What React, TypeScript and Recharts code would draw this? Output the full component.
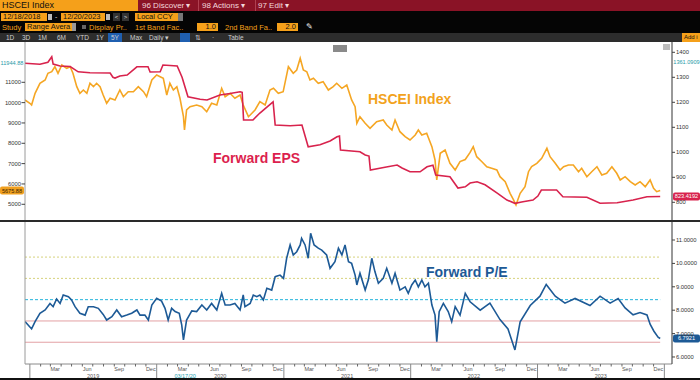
import React from "react";
import { LineChart, Line, XAxis, YAxis, ReferenceLine } from "recharts";

// day offsets from 12/18/2018
const hsceiDay = [0,14,19,29,43,58,66,77,86,95,106,120,130,138,149,158,168,178,187,197,206,216,225,235,245,259,273,283,297,312,326,341,350,365,379,389,398,408,417,427,437,446,456,459,465,475,494,509,523,537,552,566,576,590,604,619,628,643,648,662,676,691,705,715,729,743,758,772,782,792,801,811,820,830,844,858,873,887,897,912,926,940,950,955,964,979,993,1012,1031,1041,1056,1065,1079,1094,1108,1123,1132,1142,1156,1171,1180,1185,1195,1209,1223,1238,1252,1267,1281,1290,1300,1315,1329,1343,1358,1367,1382,1396,1406,1413,1425,1439,1449,1458,1473,1487,1502,1511,1526,1540,1550,1564,1578,1593,1602,1617,1631,1646,1660,1674,1689,1703,1713,1727,1742,1756,1770,1785,1799,1809,1818,1828];
const hsceiClose = [10130,9967,9884,10459,10951,11113,11443,11521,11767,11443,11851,11689,11767,11443,10784,10459,10621,10459,10951,10784,10951,10784,10375,9967,10213,10130,10621,10292,10538,10538,10784,10538,10292,11113,11359,11275,11197,10375,10951,10621,10784,10213,9308,8654,9638,9800,9884,9800,9554,9967,9884,10705,10292,10459,10213,10375,9884,9308,9392,9638,10046,9884,10621,10705,10459,10538,11767,11443,11605,12180,11605,11521,11113,11197,10951,11030,10621,10784,10951,10705,10867,10130,9800,8984,9308,8984,8738,9062,9146,8900,8654,9146,8571,8325,8162,8408,8654,8408,8492,7833,7179,6195,7508,7671,7016,6687,7100,7200,7550,7833,7341,7095,6849,6771,6687,6357,6112,5541,5212,4966,5541,5866,6603,6849,7016,7262,7754,7341,7016,6687,6849,6933,6933,6603,6771,6357,6603,6849,6441,6525,6849,6525,6195,6357,6112,5949,6112,5866,6195,5787,5620,5676];

const epsDay = [0,43,66,77,81,101,130,153,187,245,253,259,273,294,322,354,360,389,397,438,452,469,504,524,561,590,619,625,629,656,676,697,714,720,763,797,815,849,878,898,905,908,964,979,990,994,1036,1071,1085,1108,1137,1157,1174,1182,1223,1246,1267,1281,1301,1324,1359,1387,1410,1433,1462,1476,1486,1530,1548,1617,1655,1704,1750,1790,1828];
const epsValue = [1356,1352,1360,1382,1353,1345,1343,1322,1318,1317,1300,1297,1305,1309,1342,1342,1321,1322,1349,1345,1300,1222,1212,1209,1229,1235,1242,1240,1129,1129,1157,1182,1202,1109,1106,1109,1022,1030,1045,1062,1065,1009,1002,989,985,929,940,949,937,922,922,942,948,909,902,857,862,877,882,870,837,809,796,802,809,825,849,849,822,820,796,798,809,822,823];

const peDay = [0,9,19,29,43,58,72,81,91,101,110,125,134,144,158,173,182,197,211,225,235,250,264,278,293,307,322,331,345,355,365,379,393,403,412,422,432,444,451,456,465,480,494,509,523,537,552,566,576,590,604,619,628,633,648,657,667,676,686,696,710,720,734,744,753,763,772,782,792,796,806,815,822,832,844,854,868,878,892,902,912,921,931,940,950,955,964,979,988,998,1007,1017,1031,1041,1056,1065,1079,1094,1103,1113,1123,1132,1142,1151,1161,1171,1180,1185,1192,1204,1218,1228,1238,1252,1267,1281,1310,1338,1367,1390,1410,1425,1454,1482,1500,1526,1554,1583,1626,1655,1684,1707,1727,1750,1770,1790,1799,1810,1822,1828];
const peValue = [7.51,7.37,7.2,7.51,7.87,8.01,8.29,8.15,8.48,8.29,8.65,8.58,8.44,8.15,7.87,7.79,8.15,8.15,8.08,7.82,7.58,7.72,8.01,7.72,7.79,7.87,8.01,7.79,7.79,7.58,8.22,8.51,8.39,8.08,7.58,8.08,7.94,7.87,7.37,6.73,7.58,7.97,7.94,8.22,8.01,8.29,8.01,8.72,8.22,8.22,8.29,8.01,8.65,8.15,8.29,8.65,8.58,8.65,8.44,8.94,8.86,9.43,9.5,9.36,10.22,10.79,10.36,10.5,10.79,11.07,10.79,10.22,11.29,10.79,10.65,10.57,10.36,9.79,10.07,10.65,10.36,10.79,10.07,10.0,9.5,9.08,9.58,8.86,9.29,10.22,9.65,9.15,9.36,9.79,9.15,9.58,8.86,9.0,8.72,9.08,9.29,9.0,9.29,9.0,9.15,8.22,7.79,6.65,7.94,8.29,7.94,7.51,8.15,7.79,8.72,8.36,8.0,8.3,7.6,7.2,6.3,7.5,8.2,8.6,9.1,8.6,8.3,8.5,8.2,8.6,8.3,8.5,8.1,7.8,7.9,7.8,7.4,7.1,6.85,6.79];

// Range average bands for forward P/E
const peMean = 8.45;
const peBandsUpper = [9.36, 10.27];
const peBandsLower = [7.54, 6.63];

const idxTicks = [5000, 6000, 7000, 8000, 9000, 10000, 11000];
const epsTicks = [800, 900, 1000, 1100, 1200, 1300, 1400];
const peTicks = [6, 7, 8, 9, 10, 11];
const monthLabels = ["Mar", "Jun", "Sep", "Dec"];
const yearLabels = ["2019", "2020", "2021", "2022", "2023"];

const LAST = { idx: 5675.88, eps: 823.4192, pe: 6.7921 };
const CURSOR = { idx: 11944.88, eps: 1361.0909, date: "03/17/20" };

const START = Date.UTC(2018, 11, 18);
const dayOf = (y: number, m: number, d: number) => (Date.UTC(y, m, d) - START) / 86400000;
const END_DAY = 1862;

const pair = (days: number[], vals: number[]) => days.map((d, i) => ({ d, v: vals[i] }));
const hsceiData = pair(hsceiDay, hsceiClose);
const epsData = pair(epsDay, epsValue);
const peData = pair(peDay, peValue);

// time axis ticks: month starts, labelled quarter months, year labels
const tickInfo = new Map<number, { kind: string; label?: string }>();
for (let y = 2019; y <= 2024; y++) {
  for (let m = 0; m < 12; m++) {
    if (y === 2024 && m > 0) break;
    tickInfo.set(dayOf(y, m, 1), { kind: m === 0 ? "year" : "month" });
  }
}
yearLabels.forEach((yl) => {
  const y = Number(yl);
  [2, 5, 8, 11].forEach((m, i) => tickInfo.set(dayOf(y, m, 15), { kind: "mlabel", label: monthLabels[i] }));
  tickInfo.set(dayOf(y, 6, 2), { kind: "ylabel", label: yl });
});
tickInfo.set(dayOf(2020, 2, 17), { kind: "cursor", label: CURSOR.date });
const timeTicks = Array.from(tickInfo.keys()).sort((a, b) => a - b);

const FONT = "'Liberation Sans', Arial, sans-serif";

const TimeTick = (props: any) => {
  const { x, y, payload } = props;
  const info = tickInfo.get(payload.value);
  if (!info) return null;
  if (info.kind === "month") return <line x1={x} x2={x} y1={y} y2={y + 2.5} stroke="#666" />;
  if (info.kind === "year") return <line x1={x} x2={x} y1={y} y2={y + 15} stroke="#888" />;
  if (info.kind === "mlabel")
    return <text x={x} y={y + 7} textAnchor="middle" fontSize={5.5} fill="#555">{info.label}</text>;
  if (info.kind === "cursor")
    return <text x={x + 2} y={y + 14} textAnchor="middle" fontSize={5.5} fill="#1aa0b0">{info.label}</text>;
  return <text x={x} y={y + 14} textAnchor="middle" fontSize={5.5} fill="#555">{info.label}</text>;
};

const LeftTick = (props: any) => {
  const { x, y, payload } = props;
  return (
    <g>
      <line x1={x - 3.5} x2={x} y1={y} y2={y} stroke="#444" />
      <text x={x - 4} y={y} dy={2} textAnchor="end" fontSize={5.8} fill="#333">{payload.value}</text>
    </g>
  );
};

const RightTick = (props: any) => {
  const { x, y, payload, digits } = props;
  const label = digits ? payload.value.toFixed(digits) : payload.value;
  return (
    <g>
      <line x1={x} x2={x + 3} y1={y} y2={y} stroke="#444" />
      <text x={x + 4} y={y} dy={2} textAnchor="start" fontSize={5.8} fill="#333">{label}</text>
    </g>
  );
};

const tagLabel = (text: string, side: "left" | "right", bg: string, fg: string, box = true) => (p: any) => {
  const vb = p.viewBox;
  const w = side === "left" ? 24 : 27;
  const x = side === "left" ? 0 : vb.x + vb.width + 1;
  return (
    <g>
      {box && <rect x={x} y={vb.y - 4} width={w} height={8} rx={2} fill={bg} />}
      <text x={x + w / 2} y={vb.y} dy={2} textAnchor="middle" fontSize={5.6} fill={fg}>{text}</text>
    </g>
  );
};

const Box = ({ x, y, w, h, bg, color = "#111", size = 8, children, align = "left" }: any) => (
  <div
    style={{
      position: "absolute", left: x, top: y, width: w, height: h, background: bg, color,
      fontSize: size, lineHeight: `${h}px`, whiteSpace: "nowrap", overflow: "hidden",
      textAlign: align, paddingLeft: align === "left" ? 2 : 0, paddingRight: align === "right" ? 2 : 0,
      boxSizing: "border-box",
    }}
  >
    {children}
  </div>
);

const Txt = ({ x, y, color = "#ddd", size = 8, children, bold = false }: any) => (
  <div style={{ position: "absolute", left: x, top: y, color, fontSize: size, whiteSpace: "nowrap", fontWeight: bold ? 700 : 400, lineHeight: 1 }}>
    {children}
  </div>
);

function Header() {
  const periods = [["1D", 6], ["3D", 22], ["1M", 38], ["6M", 57], ["YTD", 76], ["1Y", 96], ["5Y", 111], ["Max", 130], ["Daily ▾", 149]];
  return (
    <>
      <div style={{ position: "absolute", left: 0, top: 0, width: 700, height: 11, background: "#8a1326" }} />
      <Box x={0} y={0} w={138} h={11} bg="#f5a01a" size={9}>HSCEI Index</Box>
      <Txt x={142} y={1.5} color="#f3d7dc" size={8}>96 Discover ▾</Txt>
      <div style={{ position: "absolute", left: 198, top: 0, width: 1, height: 11, background: "#b04050" }} />
      <Txt x={202} y={1.5} color="#f3d7dc" size={8}>98 Actions ▾</Txt>
      <div style={{ position: "absolute", left: 255, top: 0, width: 1, height: 11, background: "#b04050" }} />
      <Txt x={258} y={1.5} color="#f3d7dc" size={8}>97 Edit ▾</Txt>

      <div style={{ position: "absolute", left: 0, top: 11, width: 700, height: 22, background: "#050505" }} />
      <Box x={1} y={13} w={46} h={8} bg="#f5a01a" size={7.5}>12/18/2018</Box>
      <Box x={48} y={14} w={4} h={6} bg="#bbb" />
      <Txt x={55} y={13} color="#ddd" size={7}>-</Txt>
      <Box x={61} y={13} w={44} h={8} bg="#f5a01a" size={7.5}>12/20/2023</Box>
      <Box x={106} y={14} w={4} h={6} bg="#bbb" />
      <Box x={113} y={13} w={7} h={8} bg="#333" color="#ddd" size={6} align="center">&lt;</Box>
      <Box x={122} y={13} w={7} h={8} bg="#333" color="#ddd" size={6} align="center">&gt;</Box>
      <Box x={135} y={13} w={43} h={8} bg="#f5a01a" size={7.5}>Local CCY</Box>
      <Box x={178} y={13} w={5} h={8} bg="#777" />

      <Txt x={2} y={24} color="#f5a01a" size={7.5}>Study</Txt>
      <Box x={25} y={23} w={47} h={8} bg="#f5a01a" size={7.5}>Range Avera</Box>
      <Box x={72} y={23} w={4} h={8} bg="#999" />
      <Box x={82} y={25} w={4} h={4} bg="#666" />
      <Txt x={89} y={24} color="#f5a01a" size={7.5}>Display Pr..</Txt>
      <Txt x={135} y={24} color="#f5a01a" size={7.5}>1st Band Fac..</Txt>
      <Box x={197} y={23} w={21} h={8} bg="#f5a01a" size={7.5} align="right">1.0</Box>
      <Txt x={225} y={24} color="#f5a01a" size={7.5}>2nd Band Fa..</Txt>
      <Box x={277} y={23} w={21} h={8} bg="#f5a01a" size={7.5} align="right">2.0</Box>
      <Txt x={306} y={23} color="#eee" size={7.5}>✎</Txt>

      <div style={{ position: "absolute", left: 0, top: 33, width: 700, height: 9, background: "#2d2d2d" }} />
      <div style={{ position: "absolute", left: 108, top: 33, width: 14, height: 9, background: "#1f5fb0" }} />
      <div style={{ position: "absolute", left: 180, top: 33, width: 10, height: 9, background: "#1f5fb0" }} />
      {periods.map(([t, x]) => (
        <Txt key={t as string} x={x} y={34.5} color="#cfcfcf" size={6.5}>{t}</Txt>
      ))}
      <Txt x={195} y={34.5} color="#cfcfcf" size={6.5}>⇅</Txt>
      <Txt x={212} y={34.5} color="#cfcfcf" size={6.5}>·</Txt>
      <Txt x={228} y={34.5} color="#cfcfcf" size={6.5}>Table</Txt>
      <Box x={682} y={33} w={18} h={9} bg="#f5a01a" size={6}>Add i</Box>
    </>
  );
}

export default function App() {
  return (
    <div style={{ position: "absolute", left: 0, top: 0, width: 700, height: 380, background: "#fff", fontFamily: FONT, overflow: "hidden" }}>
      <Header />

      {/* upper panel: index and forward EPS */}
      <div style={{ position: "absolute", left: 0, top: 42 }}>
        <LineChart width={700} height={179} margin={{ top: 0, right: 0, bottom: 0, left: 0 }} style={{ fontFamily: FONT }}>
          <XAxis xAxisId="t" dataKey="d" type="number" domain={[0, END_DAY]} hide allowDataOverflow />
          <YAxis yAxisId="idx" orientation="left" width={25} domain={[4178, 12982]} ticks={idxTicks} interval={0}
            allowDataOverflow tick={<LeftTick />} tickLine={false} tickSize={0} tickMargin={0} axisLine={{ stroke: "#9a9a9a" }} />
          <YAxis yAxisId="eps" orientation="right" width={28} domain={[725.2, 1441.2]} ticks={epsTicks} interval={0}
            allowDataOverflow tick={<RightTick />} tickLine={false} tickSize={0} tickMargin={0} axisLine={{ stroke: "#333" }} />
          <ReferenceLine xAxisId="t" yAxisId="idx" y={CURSOR.idx} stroke="none"
            label={tagLabel(CURSOR.idx.toFixed(2), "left", "none", "#2a9aa8", false)} />
          <ReferenceLine xAxisId="t" yAxisId="idx" y={LAST.idx} stroke="none"
            label={tagLabel(LAST.idx.toFixed(2), "left", "#f0a020", "#3a2400")} />
          <ReferenceLine xAxisId="t" yAxisId="eps" y={CURSOR.eps} stroke="none"
            label={tagLabel(CURSOR.eps.toFixed(4), "right", "none", "#2a9aa8", false)} />
          <ReferenceLine xAxisId="t" yAxisId="eps" y={LAST.eps} stroke="none"
            label={tagLabel(LAST.eps.toFixed(4), "right", "#d8234d", "#fff")} />
          <Line xAxisId="t" yAxisId="idx" data={hsceiData} dataKey="v" type="linear" stroke="#f5a623"
            strokeWidth={1.6} dot={false} isAnimationActive={false} />
          <Line xAxisId="t" yAxisId="eps" data={epsData} dataKey="v" type="linear" stroke="#d8234d"
            strokeWidth={1.6} dot={false} isAnimationActive={false} />
        </LineChart>
      </div>

      <div style={{ position: "absolute", left: 0, top: 220, width: 700, height: 2, background: "#2a2a2a" }} />

      {/* lower panel: forward P/E with range-average bands */}
      <div style={{ position: "absolute", left: 0, top: 222 }}>
        <LineChart width={700} height={158} margin={{ top: 0, right: 0, bottom: 0, left: 0 }} style={{ fontFamily: FONT }}>
          <XAxis xAxisId="t" dataKey="d" type="number" domain={[0, END_DAY]} ticks={timeTicks} interval={0}
            allowDataOverflow height={16} tick={<TimeTick />} tickLine={false} tickSize={0} tickMargin={0}
            axisLine={{ stroke: "#8a8a8a" }} />
          <YAxis yAxisId="pe" orientation="left" width={25} domain={[5.7, 11.77]} tick={false}
            allowDataOverflow axisLine={{ stroke: "#9a9a9a" }} />
          <YAxis yAxisId="peR" orientation="right" width={28} domain={[5.7, 11.77]} ticks={peTicks} interval={0}
            allowDataOverflow tick={<RightTick digits={4} />} tickLine={false} tickSize={0} tickMargin={0}
            axisLine={{ stroke: "#333" }} />
          {peBandsUpper.map((b) => (
            <ReferenceLine key={b} xAxisId="t" yAxisId="pe" segment={[{ x: 0, y: b }, { x: 1828, y: b }]}
              stroke="#d6d27c" strokeDasharray="2 2" />
          ))}
          <ReferenceLine xAxisId="t" yAxisId="pe" segment={[{ x: 0, y: peMean }, { x: 1828, y: peMean }]}
            stroke="#22b4dc" strokeDasharray="3 2" />
          {peBandsLower.map((b) => (
            <ReferenceLine key={b} xAxisId="t" yAxisId="pe" segment={[{ x: 0, y: b }, { x: 1828, y: b }]}
              stroke="#e3a0a4" />
          ))}
          <ReferenceLine xAxisId="t" yAxisId="peR" y={LAST.pe} stroke="none"
            label={tagLabel(LAST.pe.toFixed(4), "right", "#1d5a96", "#fff")} />
          <Line xAxisId="t" yAxisId="pe" data={peData} dataKey="v" type="linear" stroke="#1d5a96"
            strokeWidth={1.6} dot={false} isAnimationActive={false} />
        </LineChart>
      </div>

      <Txt x={368} y={92} color="#f2a21c" size={14} bold>HSCEI Index</Txt>
      <Txt x={213} y={151} color="#dc1f4e" size={14} bold>Forward EPS</Txt>
      <Txt x={426} y={265} color="#1d5a96" size={14} bold>Forward P/E</Txt>

      <div style={{ position: "absolute", left: 333, top: 45, width: 14, height: 7, background: "#8a8a8a" }} />
      <div style={{ position: "absolute", left: 663, top: 44, width: 7, height: 6, background: "#bdbdbd" }} />
      <div style={{ position: "absolute", left: 0, top: 378, width: 700, height: 2, background: "#111" }} />
    </div>
  );
}
